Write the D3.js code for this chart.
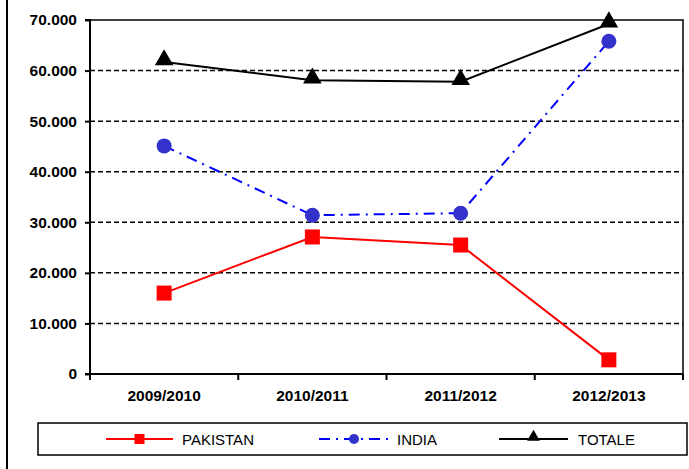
<!DOCTYPE html>
<html><head><meta charset="utf-8">
<script src="https://cdn.jsdelivr.net/npm/d3@7"></script>
<style>body{margin:0;background:#fff}svg{display:block}</style>
</head><body>
<script>
const categories = ["2009/2010","2010/2011","2011/2012","2012/2013"];
const pakistan = [16.0, 27.1, 25.5, 2.8];
const india = [45.1, 31.4, 31.8, 65.8];
const totale = [61.7, 58.1, 57.8, 69.2];
const yTicks = [0,10,20,30,40,50,60,70];
const tickLabels = ["0","10.000","20.000","30.000","40.000","50.000","60.000","70.000"];
const seriesNames = ["PAKISTAN","INDIA","TOTALE"];

const W=689,H=469;
const svg=d3.select("body").append("svg").attr("width",W).attr("height",H);
const L=90,R=683,T=20,B=374;
const x=d3.scaleBand().domain(categories).range([L,R]);
const y=d3.scaleLinear().domain([0,70]).range([B,T]);
const font="'Liberation Sans', Arial, sans-serif";

// outer left border
svg.append("line").attr("x1",7).attr("x2",7).attr("y1",0).attr("y2",H).attr("stroke","#000").attr("stroke-width",2);

// gridlines
svg.append("g").selectAll("line").data(yTicks.filter(d=>d>0&&d<70)).join("line")
  .attr("x1",L).attr("x2",R).attr("y1",d=>y(d)).attr("y2",d=>y(d))
  .attr("stroke","#000").attr("stroke-width",1.5).attr("stroke-dasharray","5,3");
// plot border top & right
svg.append("path").attr("d",`M${L},${T}H${R}V${B}`).attr("fill","none").attr("stroke","#000").attr("stroke-width",1.5);

// y axis
const yAxis=d3.axisLeft(y).tickValues(yTicks).tickFormat((d,i)=>tickLabels[i]).tickSize(5).tickPadding(8);
const gy=svg.append("g").attr("transform",`translate(${L},0)`).call(yAxis);
gy.select(".domain").attr("stroke-width",2).attr("d",`M-5,${B}H0V${T}H-5`);
gy.selectAll(".tick line").attr("stroke-width",2);
gy.selectAll("text").attr("font-family",font).attr("font-size",15.5).attr("font-weight","bold").attr("fill","#000");

// x axis
const gx=svg.append("g").attr("transform",`translate(0,${B})`);
gx.append("line").attr("x1",L).attr("x2",R).attr("stroke","#000").attr("stroke-width",2);
const bounds=categories.map(c=>x(c)).concat([R]);
gx.selectAll(".tk").data(bounds).join("line").attr("class","tk")
  .attr("x1",d=>d).attr("x2",d=>d).attr("y1",0).attr("y2",6).attr("stroke","#000").attr("stroke-width",2);
gx.selectAll("text").data(categories).join("text")
  .attr("x",d=>x(d)+x.bandwidth()/2).attr("y",27).attr("text-anchor","middle")
  .attr("font-family",font).attr("font-size",15.5).attr("font-weight","bold").text(d=>d);

const cx=c=>x(c)+x.bandwidth()/2;
const line=d3.line().x((d,i)=>cx(categories[i])).y(d=>y(d));

// series
const tri=d3.symbol().type(d3.symbolTriangle).size(150);
svg.append("path").datum(totale).attr("d",line).attr("fill","none").attr("stroke","#000").attr("stroke-width",2);
svg.append("path").datum(india).attr("d",line).attr("fill","none").attr("stroke","#0000FF").attr("stroke-width",2).attr("stroke-dasharray","11,6,2,6");
svg.append("path").datum(pakistan).attr("d",line).attr("fill","none").attr("stroke","#FF0000").attr("stroke-width",2);

svg.append("g").selectAll("rect").data(pakistan).join("rect")
  .attr("x",(d,i)=>cx(categories[i])-7.5).attr("y",d=>y(d)-7.5).attr("width",15).attr("height",15).attr("fill","#FF0000");
svg.append("g").selectAll("circle").data(india).join("circle")
  .attr("cx",(d,i)=>cx(categories[i])).attr("cy",d=>y(d)).attr("r",7.5).attr("fill","#3333CC");
svg.append("g").selectAll("path").data(totale).join("path")
  .attr("d",tri).attr("transform",(d,i)=>`translate(${cx(categories[i])},${y(d)-2})`).attr("fill","#000");

// legend
svg.append("rect").attr("x",38).attr("y",423).attr("width",649).attr("height",32).attr("fill","#fff").attr("stroke","#000").attr("stroke-width",1.5);
const ly=439;
const legendItems=[
  {name:seriesNames[0],x1:106,x2:173,tx:182,color:"#FF0000",dash:null,marker:"square"},
  {name:seriesNames[1],x1:319,x2:389,tx:397,color:"#0000FF",dash:"11,6,2,6",marker:"circle"},
  {name:seriesNames[2],x1:499,x2:568,tx:578,color:"#000",dash:null,marker:"tri"}
];
legendItems.forEach(it=>{
  const g=svg.append("g");
  g.append("line").attr("x1",it.x1).attr("x2",it.x2).attr("y1",ly).attr("y2",ly).attr("stroke",it.color).attr("stroke-width",2).attr("stroke-dasharray",it.dash);
  const m=(it.x1+it.x2)/2;
  if(it.marker==="square") g.append("rect").attr("x",m-5).attr("y",ly-5).attr("width",10).attr("height",10).attr("fill","#FF0000");
  if(it.marker==="circle") g.append("circle").attr("cx",m).attr("cy",ly).attr("r",5).attr("fill","#3333CC");
  if(it.marker==="tri") g.append("path").attr("d",d3.symbol().type(d3.symbolTriangle).size(70)).attr("transform",`translate(${m},${ly-2})`).attr("fill","#000");
  g.append("text").attr("x",it.tx).attr("y",ly+5.5).attr("font-family",font).attr("font-size",15).text(it.name);
});
</script>
</body></html>
